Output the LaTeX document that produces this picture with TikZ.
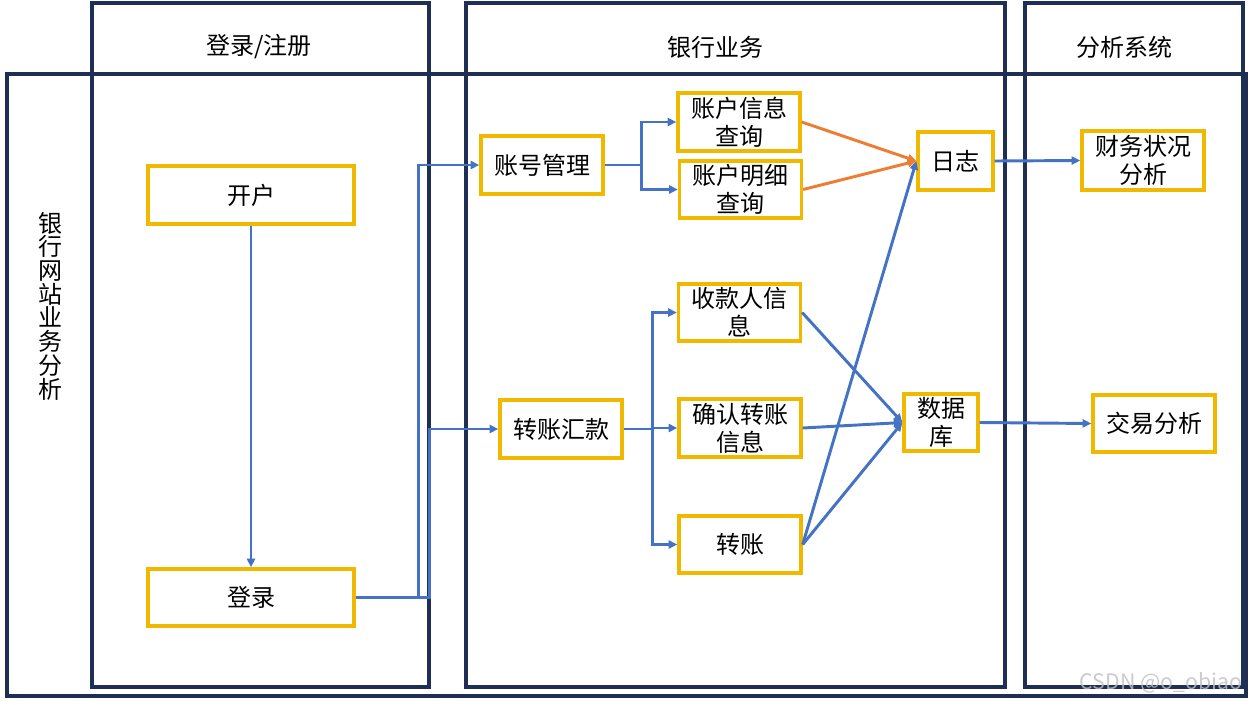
\documentclass[tikz,border=0pt]{standalone}
\usepackage{fontspec}
\setmainfont{Noto Sans CJK SC}
\usetikzlibrary{arrows.meta}

\definecolor{navy}{RGB}{31,46,85}
\definecolor{gold}{RGB}{240,185,0}
\definecolor{linkblue}{RGB}{68,114,196}
\definecolor{linkorange}{RGB}{237,125,49}

\newcommand\tightstack{\fontsize{18}{17.8}\selectfont\lineskiplimit=-9pt\relax}

\tikzset{
  frame/.style={draw=navy, line width=3pt},
  hdr/.style={font=\fontsize{18}{21}\selectfont, inner sep=0pt},
  box/.style={draw=gold, line width=2.5pt, fill=white, inner sep=0pt, align=center,
    font=\fontsize{18}{21}\selectfont, minimum width=91.5pt, minimum height=43.5pt},
  link/.style={draw=linkblue, line width=2.2pt, -{Triangle[length=6.5pt,width=6pt]}},
  hot/.style={draw=linkorange, line width=2.2pt, -{Triangle[length=6.5pt,width=6pt]}}
}

\begin{document}
\begin{tikzpicture}[x=0.75pt, y=-0.75pt]
\useasboundingbox (0,0) rectangle (1252,704);
\fill[white] (0,0) rectangle (1252,704);

% swimlane frames
\draw[frame] (7,74) rectangle (1246,696);
\draw[frame] (92,3) rectangle (429,687);
\draw[frame] (466,3) rectangle (1005,687);
\draw[frame] (1025,3) rectangle (1243,687);

% lane titles
\node[hdr] (t1) at (259,47) {登录/注册};
\node[hdr] (t2) at (715,47) {银行业务};
\node[hdr] (t3) at (1124,47) {分析系统};
\node[align=center, inner sep=0pt, font=\tightstack] (side) at (50,306)
  {银\\行\\网\\站\\业\\务\\分\\析};

% login / register lane
\node[box, minimum width=154.5pt] (kh) at (251,195) {开户};
\node[box, minimum width=154.5pt, minimum height=42.75pt] (dl) at (251,597.5) {登录};

% banking lane
\node[box] (zh) at (542,165) {账号管理};
\node[box] (q1) at (739,122) {账户信息\\查询};
\node[box, minimum height=42.75pt] (q2) at (740.5,189.5) {账户明细\\查询};
\node[box, minimum width=56.25pt] (rz) at (955.5,161) {日志};
\node[box] (hk) at (561,429) {转账汇款};
\node[box, minimum height=42.75pt] (sk) at (739.5,312.5) {收款人信\\息};
\node[box] (qr) at (740,428) {确认转账\\信息};
\node[box, minimum height=42.75pt] (zz) at (740,544.5) {转账};
\node[box, minimum width=55.5pt, minimum height=42.75pt] (db) at (941,422.5) {数据\\库};

% analysis lane
\node[box, minimum height=44.25pt] (cw) at (1143,160.5) {财务状况\\分析};
\node[box, minimum height=42.75pt] (jy) at (1154,423.5) {交易分析};

% connectors
\draw[link] (kh.south) -- (dl.north);
\draw[link] (dl.east) -- ++(63,0) |- (zh.west);
\draw[link] (dl.east) -- ++(74,0) |- (hk.west);

\draw[link] (zh.east) -- ++(37,0) |- (q1.west);
\draw[link] (zh.east) -- ++(37,0) |- (q2.west);
\draw[hot] (q1.east) -- (rz.west);
\draw[hot] (q2.east) -- (rz.west);
\draw[link] (rz.east) -- (cw.west);

\draw[link] (hk.east) -- ++(29,0) |- (sk.west);
\draw[link] (hk.east) -- ++(29,0) |- (qr.west);
\draw[link] (hk.east) -- ++(29,0) |- (zz.west);
\draw[link] (sk.east) -- (db.west);
\draw[link] (qr.east) -- (db.west);
\draw[link] (zz.east) -- (db.west);
\draw[link] (zz.east) -- (rz.west);
\draw[link] (db.east) -- (jy.west);

% watermark
\node[text=black!25, opacity=0.8, font=\fontsize{16}{16}\selectfont, inner sep=0pt] (wm) at (1161,683) {CSDN @o\_obiao};
\end{tikzpicture}
\end{document}
